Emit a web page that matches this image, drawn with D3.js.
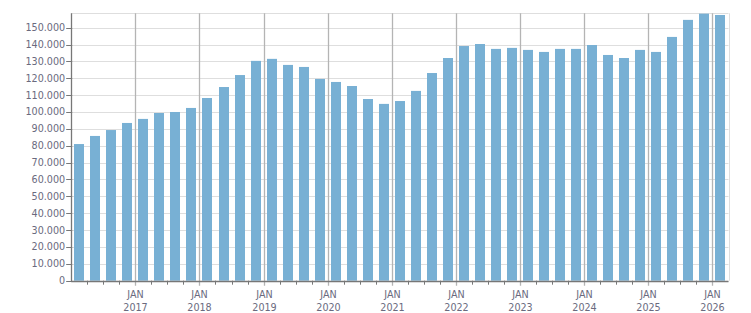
<!DOCTYPE html>
<html>
<head>
<meta charset="utf-8">
<script src="https://cdn.jsdelivr.net/npm/d3@7"></script>
<style>
  body { margin: 0; background: #fff; }
  text { font-family: "DejaVu Sans", Verdana, sans-serif; font-size: 9.6px; fill: #6a6a7e; }
</style>
</head>
<body>
<div id="chart"></div>
<script>
// quarterly values, Q1 2016 .. Q1 2026
const quarters = [
  "2016-01", "2016-04", "2016-07", "2016-10",
  "2017-01", "2017-04", "2017-07", "2017-10",
  "2018-01", "2018-04", "2018-07", "2018-10",
  "2019-01", "2019-04", "2019-07", "2019-10",
  "2020-01", "2020-04", "2020-07", "2020-10",
  "2021-01", "2021-04", "2021-07", "2021-10",
  "2022-01", "2022-04", "2022-07", "2022-10",
  "2023-01", "2023-04", "2023-07", "2023-10",
  "2024-01", "2024-04", "2024-07", "2024-10",
  "2025-01", "2025-04", "2025-07", "2025-10",
  "2026-01"
];
const values = [
  81000, 85800, 89300, 93500,
  95900, 99400, 100000, 102400,
  108300, 114800, 121900, 130300,
  131500, 127900, 126700, 119600,
  117800, 115400, 107700, 104800,
  106500, 112500, 123100, 132000,
  139100, 140300, 137400, 138000,
  136800, 135600, 137400, 137400,
  139700, 133800, 132000, 136800,
  135600, 144500, 154600, 158300,
  157500
];
const yTicks = d3.range(0, 150001, 10000);

const width = 751, height = 313;
const margin = { top: 13.3, right: 22.5, bottom: 32.3, left: 71.2 };
const data = quarters.map((q, i) => ({ q: q, i: i, value: values[i] }));

const svg = d3.select("#chart").append("svg")
  .attr("width", width)
  .attr("height", height);

// one unit per quarter, so every quarter gets the same width
const x = d3.scaleLinear()
  .domain([0, quarters.length])
  .range([margin.left, width - margin.right]);

const y = d3.scaleLinear()
  .domain([0, 158500])
  .range([height - margin.bottom, margin.top]);

const fmt = v => d3.format(",")(v).replace(/,/g, ".");
const px = v => Math.round(v) + 0.5;

// horizontal grid
svg.append("g")
  .selectAll("line")
  .data(yTicks.concat([158500]))
  .enter()
  .append("line")
  .attr("x1", margin.left)
  .attr("x2", width - margin.right)
  .attr("y1", d => px(y(d)))
  .attr("y2", d => px(y(d)))
  .attr("stroke", "#dedede");

// right border
svg.append("line")
  .attr("x1", px(width - margin.right))
  .attr("x2", px(width - margin.right))
  .attr("y1", margin.top)
  .attr("y2", y(0))
  .attr("stroke", "#dedede");

// bars
const barW = 10;
svg.append("g")
  .selectAll("rect")
  .data(data)
  .enter()
  .append("rect")
  .attr("x", d => Math.round(x(d.i + 0.5) - barW / 2))
  .attr("width", barW)
  .attr("y", d => Math.max(y(d.value), margin.top))
  .attr("height", d => y(0) - Math.max(y(d.value), margin.top))
  .attr("fill", "#78b0d4");

// year grid lines (JAN) and quarter ticks
const jan = data.filter(d => d.q.endsWith("-01") && d.i > 0);
const other = data.filter(d => !d.q.endsWith("-01"));

svg.append("g")
  .selectAll("line")
  .data(jan)
  .enter()
  .append("line")
  .attr("x1", d => px(x(d.i)))
  .attr("x2", d => px(x(d.i)))
  .attr("y1", margin.top)
  .attr("y2", y(0) + 5)
  .attr("stroke", "#b4b4b4")
  .attr("stroke-width", 1.3);

svg.append("g")
  .selectAll("line")
  .data(other)
  .enter()
  .append("line")
  .attr("x1", d => px(x(d.i)))
  .attr("x2", d => px(x(d.i)))
  .attr("y1", y(0))
  .attr("y2", y(0) + 4)
  .attr("stroke", "#777");

// x labels
const xl = svg.append("g")
  .selectAll("g")
  .data(jan)
  .enter()
  .append("g")
  .attr("transform", d => `translate(${px(x(d.i))},0)`);
xl.append("text")
  .attr("y", 298)
  .attr("text-anchor", "middle")
  .text("JAN");
xl.append("text")
  .attr("y", 311)
  .attr("text-anchor", "middle")
  .text(d => d.q.slice(0, 4));

// y axis
const yg = svg.append("g");
yg.selectAll("line")
  .data(yTicks)
  .enter()
  .append("line")
  .attr("x1", margin.left - 5)
  .attr("x2", margin.left + 1)
  .attr("y1", d => px(y(d)))
  .attr("y2", d => px(y(d)))
  .attr("stroke", "#777");
yg.selectAll("text")
  .data(yTicks)
  .enter()
  .append("text")
  .attr("x", margin.left - 6)
  .attr("y", d => y(d) + 3.5)
  .attr("text-anchor", "end")
  .text(d => fmt(d));

// axis lines
svg.append("line")
  .attr("x1", px(margin.left))
  .attr("x2", px(margin.left))
  .attr("y1", margin.top)
  .attr("y2", y(0) + 1)
  .attr("stroke", "#777")
  .attr("stroke-width", 1.3);
svg.append("line")
  .attr("x1", margin.left)
  .attr("x2", width - margin.right)
  .attr("y1", px(y(0)))
  .attr("y2", px(y(0)))
  .attr("stroke", "#777")
  .attr("stroke-width", 1.3);
</script>
</body>
</html>
